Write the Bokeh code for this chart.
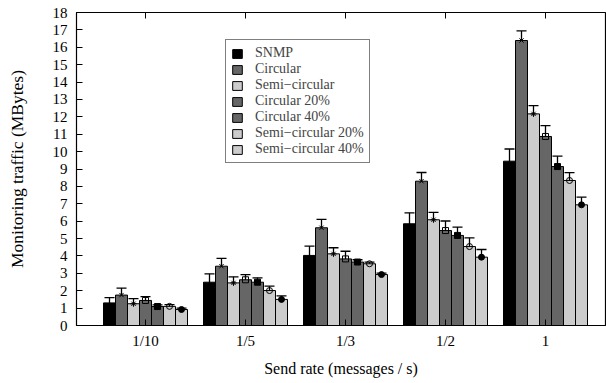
from bokeh.plotting import figure
from bokeh.models import (Range1d, FixedTicker, LinearAxis, Whisker, ColumnDataSource,
                          Legend, LegendItem, TeeHead)
from bokeh.embed import file_html
from bokeh.resources import INLINE

# ---- data ----
groups = ["1/10", "1/5", "1/3", "1/2", "1"]
series = ["SNMP", "Circular", "Semi\u2212circular", "Circular 20%", "Circular 40%",
          "Semi\u2212circular 20%", "Semi\u2212circular 40%"]
snmp = [1.3, 2.49, 4.03, 5.85, 9.45]
snmp_err = [0.3, 0.48, 0.53, 0.63, 0.7]
circular = [1.75, 3.41, 5.62, 8.3, 16.39]
circular_err = [0.4, 0.45, 0.48, 0.5, 0.55]
semi = [1.25, 2.45, 4.12, 6.08, 12.17]
semi_err = [0.3, 0.35, 0.35, 0.42, 0.47]
circ20 = [1.44, 2.63, 3.83, 5.46, 10.87]
circ20_err = [0.22, 0.3, 0.44, 0.55, 0.62]
circ40 = [1.09, 2.49, 3.65, 5.18, 9.14]
circ40_err = [0.1, 0.25, 0.13, 0.48, 0.6]
semi20 = [1.1, 2.01, 3.55, 4.54, 8.34]
semi20_err = [0.1, 0.25, 0.1, 0.5, 0.45]
semi40 = [0.92, 1.5, 2.93, 3.93, 6.94]
semi40_err = [0.08, 0.2, 0.08, 0.44, 0.44]

values = [snmp, circular, semi, circ20, circ40, semi20, semi40]
errors = [snmp_err, circular_err, semi_err, circ20_err, circ40_err, semi20_err, semi40_err]
colors = ["#000000", "#666666", "#cccccc", "#666666", "#666666", "#cccccc", "#cccccc"]
markers = [None, "x", "asterisk", "square", "square", "circle", "circle"]
marker_fill = [None, None, None, None, "black", None, "black"]

FONT = "Liberation Serif"
BW = 0.12
centers = list(range(1, len(groups) + 1))

p = figure(width=606, height=383, output_backend="svg", toolbar_location=None,
           x_range=Range1d(0.31, 5.6), y_range=Range1d(0, 18),
           min_border_left=76, min_border_right=1, min_border_top=12, min_border_bottom=58)
p.xgrid.visible = False
p.ygrid.visible = False
p.outline_line_color = "black"
p.outline_line_width = 1.2
p.background_fill_color = "white"
p.border_fill_color = "white"

items = []
for k, (vals, errs) in enumerate(zip(values, errors)):
    xs = [c + (k - 3) * BW for c in centers]
    src = ColumnDataSource(dict(x=xs, top=vals,
                                lo=[v - e for v, e in zip(vals, errs)],
                                hi=[v + e for v, e in zip(vals, errs)]))
    r = p.vbar(x="x", top="top", bottom=0, width=BW, source=src,
               fill_color=colors[k], line_color="black", line_width=1)
    items.append(LegendItem(label=series[k], renderers=[r]))
    w = Whisker(base="x", lower="lo", upper="hi", source=src, line_color="black", line_width=1.3,
                upper_head=TeeHead(size=10, line_color="black", line_width=1.3),
                lower_head=TeeHead(size=10, line_color="black", line_width=1.3))
    p.add_layout(w)
    if markers[k]:
        p.scatter(x="x", y="top", source=src, marker=markers[k], size=6,
                  line_color="black", line_width=1,
                  fill_color=marker_fill[k] if marker_fill[k] else None)

# axes
p.yaxis.ticker = FixedTicker(ticks=list(range(0, 19)))
p.yaxis.major_tick_in = 6
p.yaxis.major_tick_out = 0
p.yaxis.minor_tick_line_color = None
p.yaxis.axis_label = "Monitoring traffic (MBytes)"
p.xaxis.ticker = FixedTicker(ticks=centers)
p.xaxis.major_label_overrides = {c: g for c, g in zip(centers, groups)}
p.xaxis.major_tick_in = 6
p.xaxis.major_tick_out = 0
p.xaxis.minor_tick_line_color = None
p.xaxis.axis_label = "Send rate (messages / s)"
for ax in (p.xaxis[0], p.yaxis[0]):
    ax.major_label_text_font = FONT
    ax.major_label_text_font_size = "15px"
    ax.major_label_text_color = "black"
    ax.axis_label_text_font = FONT
    ax.axis_label_text_font_size = "16px"
    ax.axis_label_text_font_style = "normal"
    ax.axis_label_text_color = "black"
    ax.axis_line_color = "black"
    ax.major_tick_line_color = "black"
p.yaxis.axis_label_text_font_size = "17.5px"
p.xaxis.major_label_standoff = 7
p.xaxis.axis_label_standoff = 8
p.yaxis.major_label_standoff = 9
p.yaxis.axis_label_standoff = 23

top_axis = LinearAxis(ticker=FixedTicker(ticks=centers), major_tick_in=6, major_tick_out=0,
                      minor_tick_line_color=None, major_label_overrides={c: "" for c in centers},
                      major_label_standoff=0, axis_line_color=None,
                      major_tick_line_color="black")
p.add_layout(top_axis, "above")

legend = Legend(items=items, location=(149, 162), border_line_color="black",
                border_line_width=1, label_text_font=FONT, label_text_font_size="14px",
                label_height=12, glyph_height=11, glyph_width=12, spacing=0,
                padding=5, margin=0, label_standoff=12, background_fill_alpha=1)
p.add_layout(legend, "center")

open("out.html", "w").write(file_html(p, INLINE))
